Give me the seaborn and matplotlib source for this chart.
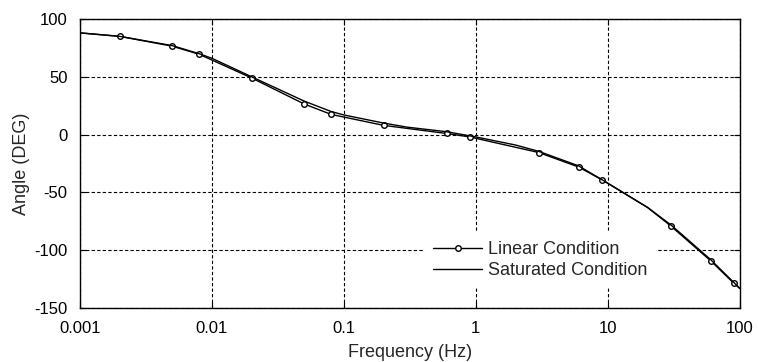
import numpy as np
import pandas as pd
import matplotlib
matplotlib.use("Agg")
import matplotlib.pyplot as plt
import seaborn as sns

# Linear condition (line vertices; markers drawn at the measured points)
lin_freq = [0.001, 0.002, 0.005, 0.008, 0.02, 0.05, 0.08, 0.2, 0.6, 0.9, 3, 6, 9, 13, 20, 30, 60, 90, 100]
lin_angle = [88, 85, 76.5, 69.5, 49, 26.5, 17.5, 8, 1, -2, -15.5, -28, -39, -50, -63, -79, -109, -128.5, -133]
lin_marked = [0.002, 0.005, 0.008, 0.02, 0.05, 0.08, 0.2, 0.6, 0.9, 3, 6, 9, 30, 60, 90]

# Saturated condition
sat_freq = [0.001, 0.002, 0.005, 0.008, 0.01, 0.02, 0.05, 0.08, 0.1, 0.2, 0.3, 0.6, 1, 2, 3, 6, 10, 13, 20, 30, 60, 100]
sat_angle = [88, 85, 77, 70, 66, 50, 29, 20, 17, 10, 6.5, 2.5, -2, -9, -14.5, -27, -42, -50, -63, -78, -108, -133]

x_ticks = [0.001, 0.01, 0.1, 1, 10, 100]
x_labels = ["0.001", "0.01", "0.1", "1", "10", "100"]
y_ticks = [-150, -100, -50, 0, 50, 100]

sns.set_style("ticks")
plt.rcParams['font.family'] = ['Liberation Sans', 'DejaVu Sans']
plt.rcParams['axes.unicode_minus'] = False

fig = plt.figure(figsize=(7.58, 3.62), dpi=100)
ax = fig.add_axes([0.1055, 0.149, 0.8705, 0.7985])

df_lin = pd.DataFrame({"f": lin_freq, "a": lin_angle})
df_sat = pd.DataFrame({"f": sat_freq, "a": sat_angle})
mark_idx = [i for i, f in enumerate(lin_freq) if f in lin_marked]

sns.lineplot(data=df_lin, x="f", y="a", ax=ax, color="black", lw=1.0,
             marker="o", markersize=4, markerfacecolor="white", markeredgecolor="black",
             markeredgewidth=1.0, markevery=mark_idx,
             label="Linear Condition", sort=False, estimator=None)
sns.lineplot(data=df_sat, x="f", y="a", ax=ax, color="black", lw=1.0,
             label="Saturated Condition", sort=False, estimator=None)

ax.set_xscale("log")
ax.set_xlim(0.001, 100)
ax.set_ylim(-150, 100)
ax.set_xticks(x_ticks)
ax.set_xticklabels(x_labels)
ax.xaxis.set_minor_locator(matplotlib.ticker.NullLocator())
ax.set_yticks(y_ticks)
ax.grid(True, which="major", color="black", linestyle=(0, (3, 2)), linewidth=0.8)
ax.tick_params(direction="in", length=4, width=0.8, labelsize=12, colors="black",
               right=True, top=True)
ax.tick_params(axis="x", pad=9)
ax.tick_params(axis="y", pad=9)
for s in ax.spines.values():
    s.set_color("black")
    s.set_linewidth(1.0)
ax.set_xlabel("Frequency (Hz)", fontsize=13, labelpad=6)
ax.set_ylabel("Angle (DEG)", fontsize=13, labelpad=3)

leg = ax.legend(loc="lower left", bbox_to_anchor=(0.523, 0.073), frameon=True,
                fontsize=13, handlelength=2.7, handletextpad=0.33, labelspacing=0.22,
                borderpad=0.45, borderaxespad=0, fancybox=False)
leg.get_frame().set_facecolor("white")
leg.get_frame().set_edgecolor("white")
leg.get_frame().set_alpha(1)

fig.savefig("out.png", dpi=100)
